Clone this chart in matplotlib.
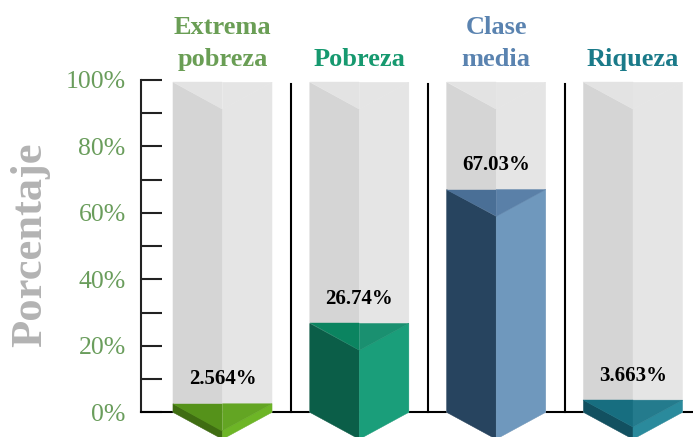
import numpy as np
import matplotlib
matplotlib.use('Agg')
import matplotlib.pyplot as plt
from matplotlib.patches import Polygon

# data
categories = ['Extrema\npobreza', 'Pobreza', 'Clase\nmedia', 'Riqueza']
values = [2.564, 26.74, 67.03, 3.663]
value_labels = ['2.564%', '26.74%', '67.03%', '3.663%']
yticks = [0, 20, 40, 60, 80, 100]
ytick_labels = ['0%', '20%', '40%', '60%', '80%', '100%']

# styles
cat_colors = ['#6a9e55', '#16996f', '#5a83b0', '#1a7a89']
top_left = ['#55921a', '#0b8460', '#4a6f96', '#176e80']
top_right = ['#63a523', '#1a9070', '#5a80a8', '#247b8d']
face_left = ['#3f6d12', '#0b5e48', '#27445f', '#125060']
face_right = ['#6db526', '#1a9e7a', '#6f98bd', '#2a8a9c']
track_top = 99.3
depth = 8.1     # depth of the V faces, in % units
half_w = 0.362

plt.rcParams['font.family'] = ['Liberation Serif', 'DejaVu Serif']

fig = plt.figure(figsize=(6.93, 4.37), dpi=100)
W, H = 693.0, 437.0
ax = fig.add_axes([141 / W, (H - 412.3) / H, (W - 141) / W, 332.3 / H])
ax.set_ylim(0, 100)
ax.set_xlim(-0.5956, 3.4386)


def prism(ax, c, top, colors, z):
    L, R = c - half_w, c + half_w
    tl, tr, fl, fr = colors
    polys = [
        ([(L, 0), (L, top), (c, top - depth), (c, -depth)], fl),
        ([(c, -depth), (c, top - depth), (R, top), (R, 0)], fr),
        ([(L, top), (c, top), (c, top - depth)], tl),
        ([(c, top), (R, top), (c, top - depth)], tr),
    ]
    for pts, col in polys:
        ax.add_patch(Polygon(pts, closed=True, facecolor=col, edgecolor=col,
                             linewidth=0.3, clip_on=False, zorder=z))


x = np.arange(len(values))
for i, v in enumerate(values):
    prism(ax, x[i], track_top, ('#e3e3e3', '#e5e5e5', '#d5d5d5', '#e5e5e5'), 3)
    prism(ax, x[i], v, (top_left[i], top_right[i], face_left[i], face_right[i]), 4)
    ax.text(x[i], v + 5.9, value_labels[i], ha='center', va='baseline',
            fontsize=15, fontweight='bold', color='black', zorder=6)
    ax.text(x[i], 102.8, categories[i], ha='center', va='bottom',
            fontsize=19, fontweight='bold', color=cat_colors[i],
            linespacing=1.5, clip_on=False)

# separators between groups
for s in x[:-1] + 0.5:
    ax.plot([s, s], [0, 98.8], color='black', lw=1.5, clip_on=False, zorder=2)

for side in ['top', 'right']:
    ax.spines[side].set_visible(False)
ax.spines['left'].set_color('#222222')
ax.spines['left'].set_linewidth(1.5)
ax.spines['bottom'].set_color('black')
ax.spines['bottom'].set_linewidth(1.5)

ax.set_xticks([])
ax.set_yticks(yticks)
ax.set_yticklabels(ytick_labels)
ax.set_yticks(np.arange(10, 100, 20), minor=True)
ax.tick_params(axis='y', which='both', direction='in', length=15, width=1.5,
               color='#222222')
ax.tick_params(axis='y', which='major', labelsize=18.5, labelcolor='#6a9d5c', pad=11)
ax.patch.set_alpha(0)

fig.text(30 / W, 1 - 245 / H, 'Porcentaje', rotation=90, ha='center', va='center',
         fontsize=32, fontweight='bold', color='#b3b3b3')

fig.savefig('out.png', dpi=100)
